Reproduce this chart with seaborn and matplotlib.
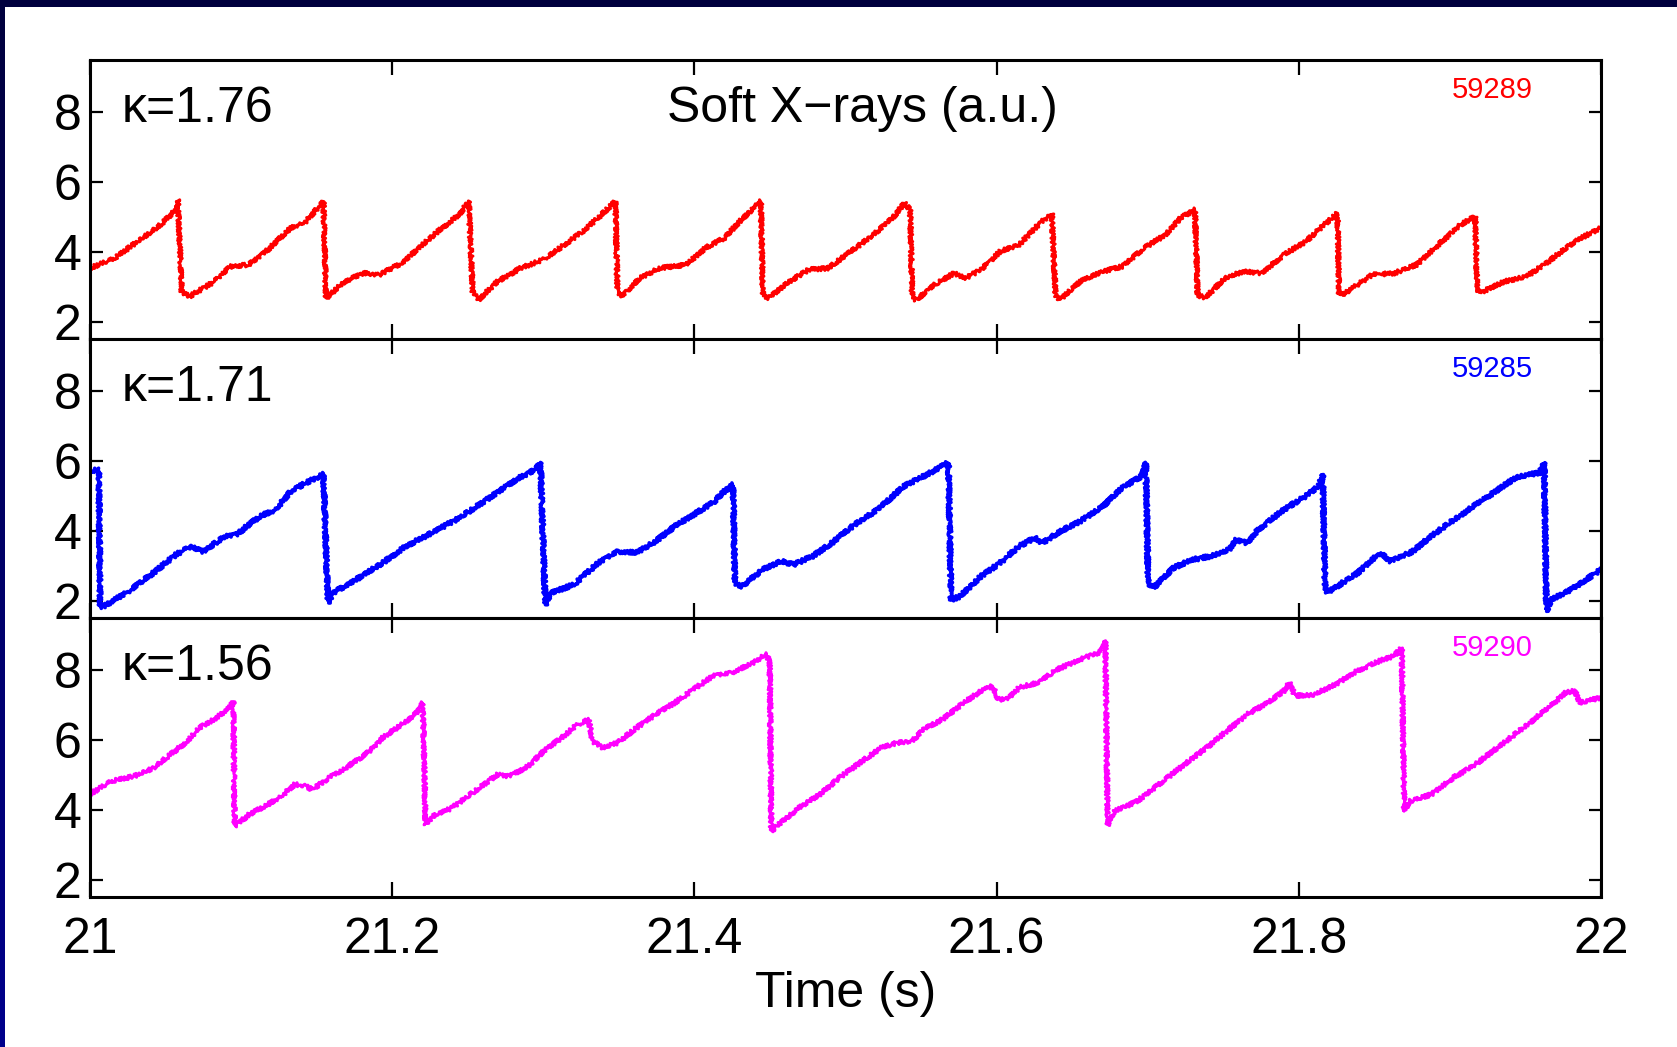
import numpy as np
import pandas as pd
import matplotlib
matplotlib.use("Agg")
import matplotlib.pyplot as plt
from matplotlib.patches import Rectangle
from matplotlib.colors import LinearSegmentedColormap
import seaborn as sns

# ---------------- data ----------------
shots = ["59289", "59285", "59290"]
kappas = ["\u03ba=1.76", "\u03ba=1.71", "\u03ba=1.56"]
colors = ["#ff0000", "#0000ff", "#ff00ff"]
xticks = [21.0, 21.2, 21.4, 21.6, 21.8, 22.0]
xticklabels = ["21", "21.2", "21.4", "21.6", "21.8", "22"]
yticks = [2, 4, 6, 8]

t_59289 = [21.000, 21.0164, 21.0316, 21.0468, 21.0569, 21.0582,
           21.0607, 21.0658, 21.0823, 21.0924, 21.1051, 21.1177, 21.1330, 21.1431, 21.1545,
           21.1562, 21.1684, 21.1811, 21.1912, 21.2064, 21.2190, 21.2317, 21.2443, 21.2507,
           21.2532, 21.2570, 21.2697, 21.2849, 21.3001, 21.3110, 21.3263, 21.3364, 21.3478,
           21.3490, 21.3516, 21.3643, 21.3769, 21.3946, 21.4073, 21.4200, 21.4301, 21.4440,
           21.4453, 21.4491, 21.4630, 21.4757, 21.4884, 21.5036, 21.5187, 21.5314, 21.5390, 21.5428,
           21.5441, 21.5466, 21.5592, 21.5719, 21.5795, 21.5897, 21.6023, 21.6150, 21.6277, 21.6365,
           21.6390, 21.6416, 21.6555, 21.6707, 21.6830, 21.6977, 21.7122, 21.7220, 21.7313,
           21.7330, 21.7378, 21.7512, 21.7634, 21.7756, 21.7902, 21.8048, 21.8146, 21.8256,
           21.8267, 21.8292, 21.8389, 21.8486, 21.8633, 21.8779, 21.8925, 21.9071, 21.9168,
           21.9180, 21.9217, 21.9363, 21.9510, 21.9655, 21.9826, 22.000]
sxr_59289 = [3.53, 3.82, 4.30, 4.78, 5.21, 5.50,
             2.86, 2.72, 3.15, 3.58, 3.63, 4.06, 4.69, 4.88, 5.45,
             2.67, 3.15, 3.39, 3.34, 3.68, 4.16, 4.64, 5.07, 5.45,
             2.86, 2.62, 3.15, 3.53, 3.78, 4.11, 4.59, 4.98, 5.45,
             2.86, 2.72, 3.25, 3.53, 3.63, 4.11, 4.40, 4.88, 5.45,
             2.77, 2.67, 3.15, 3.49, 3.53, 4.01, 4.50, 4.98, 5.40, 5.21,
             2.77, 2.62, 3.06, 3.39, 3.25, 3.49, 4.01, 4.21, 4.78, 5.11,
             2.77, 2.62, 3.15, 3.44, 3.58, 4.11, 4.50, 4.98, 5.21,
             2.77, 2.67, 3.25, 3.44, 3.39, 3.92, 4.30, 4.69, 5.11,
             2.77, 2.77, 3.06, 3.34, 3.39, 3.63, 4.21, 4.78, 5.02,
             2.86, 2.86, 3.15, 3.30, 3.73, 4.30, 4.69]

t_59285 = [21.000, 21.0058, 21.0068, 21.0088, 21.0240, 21.0418, 21.0569, 21.0671, 21.0747,
           21.0899, 21.0975, 21.1025, 21.1127, 21.1228, 21.1330, 21.1431, 21.1545,
           21.1575, 21.1608, 21.1760, 21.1937, 21.2089, 21.2241, 21.2443, 21.2646, 21.2823,
           21.2950, 21.2981,
           21.3013, 21.3052, 21.3203, 21.3364, 21.3490, 21.3617, 21.3744, 21.3870, 21.3997,
           21.4124, 21.4200, 21.4256,
           21.4268, 21.4314, 21.4453, 21.4580, 21.4656, 21.4782, 21.4909, 21.5061, 21.5213,
           21.5390, 21.5542, 21.5681,
           21.5699, 21.5757, 21.5897, 21.6023, 21.6150, 21.6252, 21.6302, 21.6403, 21.6555,
           21.6707, 21.6834, 21.6960, 21.6987,
           21.7003, 21.7038, 21.7171, 21.7293, 21.7415, 21.7537, 21.7586, 21.7659, 21.7732,
           21.7902, 21.8048, 21.8133, 21.8158,
           21.8175, 21.8218, 21.8389, 21.8535, 21.8608, 21.8754, 21.8876, 21.8998, 21.9095,
           21.9241, 21.9436, 21.9594, 21.9624,
           21.9639, 21.9668, 21.9801, 22.000]
sxr_59285 = [5.72, 5.75, 1.83, 1.83, 2.22, 2.79, 3.32, 3.56, 3.41,
             3.85, 3.90, 4.09, 4.42, 4.61, 5.14, 5.38, 5.62,
             1.93, 2.22, 2.60, 3.08, 3.56, 3.89, 4.37, 4.95, 5.48,
             5.76, 5.96,
             1.88, 2.22, 2.46, 3.08, 3.41, 3.37, 3.70, 4.13, 4.47,
             4.81, 5.14, 5.33,
             2.50, 2.41, 2.89, 3.13, 3.03, 3.27, 3.65, 4.18, 4.61,
             5.29, 5.62, 5.96,
             2.02, 2.12, 2.70, 3.08, 3.56, 3.80, 3.65, 3.94, 4.28,
             4.71, 5.24, 5.57, 5.96,
             2.50, 2.36, 2.94, 3.17, 3.27, 3.46, 3.75, 3.65, 4.04,
             4.61, 5.00, 5.29, 5.62,
             2.22, 2.31, 2.79, 3.37, 3.13, 3.41, 3.85, 4.23, 4.52,
             4.95, 5.53, 5.67, 5.96,
             1.69, 2.02, 2.31, 2.89]

t_59290 = [21.000, 21.0139, 21.0291, 21.0418, 21.0519, 21.0645, 21.0721, 21.0823, 21.0924, 21.0949,
           21.0957, 21.1051, 21.1177, 21.1279, 21.1355, 21.1431, 21.1469, 21.1583, 21.1709, 21.1836,
           21.1937, 21.2064, 21.2165, 21.2203,
           21.2221, 21.2267, 21.2393, 21.2545, 21.2697, 21.2773, 21.2900, 21.3026, 21.3110, 21.3212,
           21.3300, 21.3326, 21.3389, 21.3490, 21.3617, 21.3744, 21.3870, 21.3997, 21.4124, 21.4250,
           21.4377, 21.4479, 21.4499,
           21.4509, 21.4580, 21.4706, 21.4832, 21.4959, 21.5111, 21.5238, 21.5339, 21.5441, 21.5517,
           21.5644, 21.5770, 21.5897, 21.5973, 21.6011, 21.6074, 21.6150, 21.6277, 21.6403, 21.6555,
           21.6682, 21.6720,
           21.6735, 21.6782, 21.6928, 21.7074, 21.7244, 21.7390, 21.7537, 21.7659, 21.7781, 21.7902,
           21.7939, 21.7975, 21.8097, 21.8243, 21.8389, 21.8535, 21.8633, 21.8681,
           21.8698, 21.8730, 21.8876, 21.9022, 21.9168, 21.9314, 21.9485, 21.9655, 21.9765, 21.9826,
           21.9862, 22.000]
sxr_59290 = [4.45, 4.82, 4.96, 5.20, 5.54, 5.97, 6.35, 6.60, 6.93, 7.12,
             3.53, 3.86, 4.15, 4.44, 4.73, 4.68, 4.58, 4.92, 5.25, 5.63,
             6.07, 6.45, 6.79, 7.07,
             3.57, 3.81, 4.05, 4.53, 5.01, 4.96, 5.25, 5.78, 6.02, 6.40,
             6.60, 5.97, 5.78, 5.92, 6.35, 6.74, 7.07, 7.46, 7.84, 7.94,
             8.18, 8.47, 8.16,
             3.38, 3.67, 4.10, 4.44, 4.92, 5.40, 5.78, 5.92, 5.97, 6.31,
             6.60, 7.03, 7.41, 7.55, 7.17, 7.17, 7.51, 7.65, 8.03, 8.32,
             8.51, 8.85,
             3.55, 3.96, 4.24, 4.73, 5.30, 5.78, 6.31, 6.74, 7.03, 7.41,
             7.65, 7.27, 7.30, 7.60, 7.99, 8.27, 8.42, 8.66,
             3.96, 4.24, 4.44, 4.92, 5.30, 5.78, 6.35, 6.93, 7.36, 7.41,
             7.07, 7.22]

series_t = [t_59289, t_59285, t_59290]
series_v = [sxr_59289, sxr_59285, sxr_59290]

# ---------------- style ----------------
sns.set_theme(style="ticks")
plt.rcParams["font.family"] = ["Liberation Sans", "DejaVu Sans"]

W, H = 1677, 1047
fig = plt.figure(figsize=(W / 100, H / 100), dpi=100)
fig.patch.set_facecolor("white")

# navy frame (top band and left band)
fig.patches.append(Rectangle((0, 1 - 7 / H), 1, 7 / H, transform=fig.transFigure,
                             facecolor="#00003e", edgecolor="none", zorder=0))
ax_band = fig.add_axes([0, 0, 5 / W, 1 - 7 / H])
grad = np.linspace(0, 1, 256).reshape(-1, 1)
ax_band.imshow(grad, aspect="auto",
               cmap=LinearSegmentedColormap.from_list("navy", ["#00003e", "#00008c"]))
ax_band.set_axis_off()

left_px, right_px = 90, 1601
top_px, panel_h = 60, 279
axes = []
for i in range(3):
    top = top_px + panel_h * i
    bottom = top + panel_h
    ax = fig.add_axes([left_px / W, 1 - bottom / H, (right_px - left_px) / W, panel_h / H])
    axes.append(ax)
    df = pd.DataFrame({"t": series_t[i], "v": series_v[i]})
    sns.lineplot(data=df, x="t", y="v", ax=ax, color=colors[i],
                 linewidth=2.6 if i == 1 else 2.2, estimator=None, sort=False)
    for ln in ax.get_lines():
        ln.set_sketch_params(scale=2.0, length=2.5, randomness=2.0)
    ax.set_xlim(21, 22)
    ax.set_ylim(1.5, 9.5)
    ax.set_yticks(yticks)
    ax.set_yticklabels([str(v) for v in yticks])
    ax.set_xticks(xticks)
    ax.tick_params(direction="in", top=True, right=True, width=1.6, colors="black",
                   labelsize=36, labelcolor="black")
    ax.tick_params(axis="y", length=9, pad=6)
    ax.tick_params(axis="x", length=11, pad=14.5)
    for s in ax.spines.values():
        s.set_linewidth(2.2)
        s.set_color("black")
    ax.set_ylabel("")
    if i < 2:
        ax.set_xticklabels([])
        ax.set_xlabel("")
    else:
        ax.set_xticklabels(xticklabels)
        ax.set_xlabel("Time (s)", fontsize=36, labelpad=5.5, color="black")
    ax.text(0.021, 0.826, kappas[i], transform=ax.transAxes, fontsize=36,
            ha="left", va="center", color="black")
    ax.text(0.928, 0.893, shots[i], transform=ax.transAxes, fontsize=21,
            ha="center", va="center", color=colors[i])

axes[0].text(0.511, 0.826, "Soft X\u2212rays (a.u.)", transform=axes[0].transAxes,
             fontsize=36, ha="center", va="center", color="black")

fig.savefig("out.png", dpi=100, facecolor="white")
